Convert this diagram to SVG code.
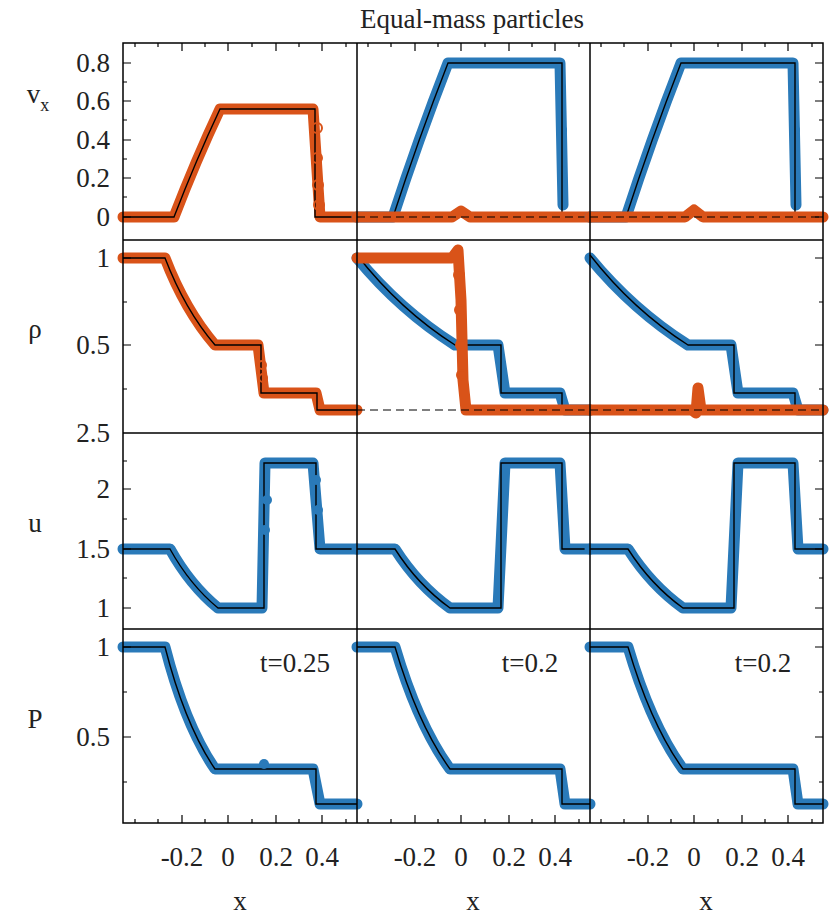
<svg xmlns="http://www.w3.org/2000/svg" width="830" height="916" viewBox="0 0 830 916">
<style>
text{font-family:"Liberation Serif","Times New Roman",serif;font-size:27px;fill:#222}
.ax{fill:none;stroke:#000;stroke-width:1.5}
.b{fill:none;stroke:#2a7ab9;stroke-width:11;stroke-linejoin:round;stroke-linecap:round}
.o{fill:none;stroke:#d95319;stroke-width:11;stroke-linejoin:round;stroke-linecap:round}
.k{fill:none;stroke:#000;stroke-width:1.4}
.d{fill:none;stroke:#000;stroke-width:1.2;stroke-dasharray:8 5}
.bc{fill:#2a7ab9}
.oc{fill:none;stroke:#d95319;stroke-width:2}
.tk{stroke:#000;stroke-width:1.2}
.r{text-anchor:end}
.m{text-anchor:middle}
</style>
<defs>
<g id="xt">
<path class="tk" d="M182,0v-8M228,0v-8M276,0v-8M322,0v-8M135,0v-4M158,0v-4M205,0v-4M252,0v-4M299,0v-4M346,0v-4"/>
</g>
<g id="xtt">
<path class="tk" d="M182,0v8M228,0v8M276,0v8M322,0v8M135,0v4M158,0v4M205,0v4M252,0v4M299,0v4M346,0v4"/>
</g>
<g id="yt">
<path class="tk" d="M0,63h8M0,101h8M0,140h8M0,178h8M0,217h8M0,258h8M0,345h8M0,489h8M0,549h8M0,608h8M0,647h8M0,737h8M0,82h4M0,120h4M0,159h4M0,197h4M0,302h4M0,389h4M0,461h4M0,519h4M0,578h4M0,692h4M0,782h4"/>
</g>
<g id="ytr">
<path class="tk" d="M0,63h-8M0,101h-8M0,140h-8M0,178h-8M0,217h-8M0,258h-8M0,345h-8M0,489h-8M0,549h-8M0,608h-8M0,647h-8M0,737h-8M0,82h-4M0,120h-4M0,159h-4M0,197h-4M0,302h-4M0,389h-4M0,461h-4M0,519h-4M0,578h-4M0,692h-4M0,782h-4"/>
</g>
</defs>
<text x="472" y="28" class="m">Equal-mass particles</text>
<g id="labels">
<text x="38" y="103" class="m">v<tspan font-size="18" dy="8">x</tspan></text>
<text x="35" y="338" class="m">ρ</text>
<text x="35" y="532" class="m">u</text>
<text x="35" y="728" class="m">P</text>
<text x="110" y="72" class="r">0.8</text><text x="110" y="110" class="r">0.6</text><text x="110" y="149" class="r">0.4</text><text x="110" y="187" class="r">0.2</text><text x="110" y="226" class="r">0</text>
<text x="110" y="267" class="r">1</text><text x="110" y="354" class="r">0.5</text>
<text x="110" y="442" class="r">2.5</text><text x="110" y="498" class="r">2</text><text x="110" y="558" class="r">1.5</text><text x="110" y="617" class="r">1</text>
<text x="110" y="656" class="r">1</text><text x="110" y="746" class="r">0.5</text>
<g id="xl"><text x="182" y="866" class="m">-0.2</text><text x="228" y="866" class="m">0</text><text x="276" y="866" class="m">0.2</text><text x="322" y="866" class="m">0.4</text><text x="240" y="910" class="m">x</text></g>
<use href="#xl" x="233"/><use href="#xl" x="466"/>
<text x="295" y="672" class="m">t=0.25</text><text x="530" y="672" class="m">t=0.2</text><text x="763" y="672" class="m">t=0.2</text>
</g>
<g id="col1">
<path class="o" d="M123,217L174,217Q196,160 220,109L313,109L320,217L357,217"/>
<path class="k" d="M123,217L174,217Q196,160 220,109L315,109L315,217L357,217"/>
<circle class="oc" cx="317" cy="128" r="5"/><circle class="oc" cx="317" cy="158" r="5"/><circle class="oc" cx="318" cy="185" r="5"/><circle class="oc" cx="319" cy="205" r="5"/>
<path class="o" d="M123,258L165,258Q185,310 215,345L258,345L264,393L316,393L320,410L357,410"/>
<path class="k" d="M123,258L165,258Q185,310 215,345L261,345L261,393L317,393L317,410L357,410"/>
<circle class="oc" cx="262" cy="365" r="4"/><circle class="oc" cx="263" cy="378" r="4"/>
<path class="b" d="M123,549L170,549Q190,585 218,608L262,608L265,463L313,463L320,549L357,549"/>
<path class="k" d="M123,549L170,549Q190,585 218,608L264,608L264,463L316,463L316,549L357,549"/>
<circle class="bc" cx="265" cy="530" r="5"/><circle class="bc" cx="267" cy="500" r="5"/><circle class="bc" cx="316" cy="480" r="5"/><circle class="bc" cx="318" cy="510" r="5"/>
<path class="b" d="M123,647L165,647Q185,725 215,769L313,769L320,804L357,804"/>
<path class="k" d="M123,647L165,647Q185,725 215,769L316,769L316,804L357,804"/>
<circle class="bc" cx="264" cy="764" r="5"/>
</g>
<g id="col2">
<path class="b" d="M357,217L393,217Q418,140 448,63L560,63L563,205"/>
<circle class="bc" cx="562" cy="90" r="4"/><circle class="bc" cx="563" cy="130" r="4"/><circle class="bc" cx="563" cy="170" r="4"/>
<path class="k" d="M357,217L393,217Q418,140 448,63L562,63L562,217L590,217"/>
<path class="o" d="M357,217L452,217L461,211L470,217L590,217"/>
<path class="d" d="M357,217L590,217"/>
<path class="b" d="M357,258Q400,310 455,345L498,345L505,393L560,393L565,410L590,410"/>
<path class="k" d="M357,255Q400,310 455,345L501,345L501,393L562,393L562,410L590,410"/>
<path class="o" d="M357,258L452,258L458,250L461,300L463,380L466,410L590,410"/>
<circle class="oc" cx="459" cy="275" r="5"/><circle class="oc" cx="460" cy="310" r="5"/><circle class="oc" cx="461" cy="345" r="5"/><circle class="oc" cx="462" cy="375" r="5"/>
<path class="d" d="M357,410L590,410"/>
<path class="b" d="M357,549L395,549Q418,585 450,608L498,608L505,463L560,463L565,549L590,549"/>
<path class="k" d="M357,549L395,549Q418,585 450,608L501,608L501,463L562,463L562,549L590,549"/>
<path class="b" d="M357,647L395,647Q418,725 450,769L560,769L565,804L590,804"/>
<path class="k" d="M357,647L395,647Q418,725 450,769L562,769L562,804L590,804"/>
</g>
<g id="col3">
<path class="b" d="M590,217L626,217Q651,140 681,63L793,63L796,205"/>
<circle class="bc" cx="795" cy="90" r="4"/><circle class="bc" cx="796" cy="130" r="4"/><circle class="bc" cx="796" cy="170" r="4"/>
<path class="k" d="M590,217L626,217Q651,140 681,63L795,63L795,217L823,217"/>
<path class="o" d="M590,217L685,217L694,210L703,217L823,217"/>
<path class="d" d="M590,217L823,217"/>
<path class="b" d="M590,258Q633,310 688,345L731,345L738,393L793,393L798,410L823,410"/>
<path class="k" d="M590,255Q633,310 688,345L734,345L734,393L795,393L795,410L823,410"/>
<path class="o" d="M590,410L692,410L696,413L698,388L701,410L823,410"/>
<path class="d" d="M590,410L823,410"/>
<path class="b" d="M590,549L628,549Q651,585 683,608L731,608L738,463L793,463L798,549L823,549"/>
<path class="k" d="M590,549L628,549Q651,585 683,608L734,608L734,463L795,463L795,549L823,549"/>
<path class="b" d="M590,647L628,647Q651,725 683,769L793,769L798,804L823,804"/>
<path class="k" d="M590,647L628,647Q651,725 683,769L795,769L795,804L823,804"/>
</g>
<g id="axes">
<rect class="ax" x="123" y="43" width="700" height="780"/>
<path class="ax" d="M357,43V823M590,43V823M123,240H823M123,433H823M123,629H823"/>
<use href="#xt" y="823"/><use href="#xt" x="233" y="823"/><use href="#xt" x="466" y="823"/>
<use href="#xtt" y="43"/><use href="#xtt" x="233" y="43"/><use href="#xtt" x="466" y="43"/>
<use href="#yt" x="123"/><use href="#ytr" x="823"/>
</g>
</svg>
